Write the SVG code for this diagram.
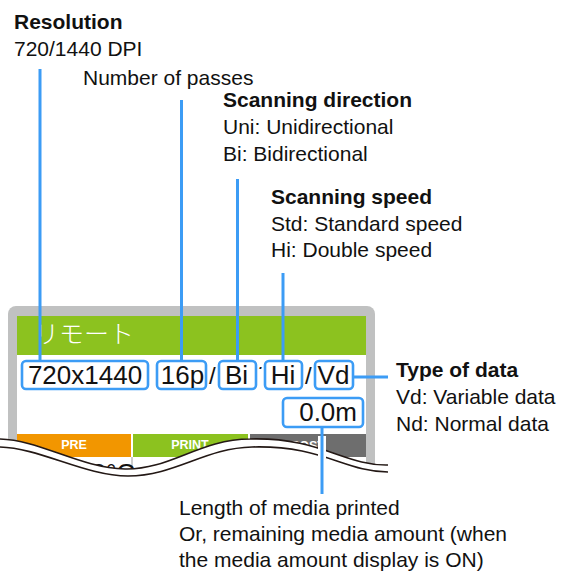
<svg xmlns="http://www.w3.org/2000/svg" width="565" height="572" viewBox="0 0 565 572">
<defs>
<style>
text{font-family:"Liberation Sans",Arial,"Noto Sans CJK JP",sans-serif;fill:#111}
.t{font-size:21px;font-weight:bold}
.d{font-size:21px}
.bx{fill:#fff;stroke:#3c9cf5;stroke-width:2.6}
.bt{font-size:26px;text-anchor:middle}
.conn{stroke:#3c9cf5;stroke-width:3;fill:none}
.halo{stroke:#fff;stroke-width:8;fill:none}
.wave{fill:none;stroke:#231815;stroke-width:1.6}
.sl{font-size:24px}
.bar{font-size:12.5px;font-weight:bold;fill:#fff;text-anchor:middle}
</style>
<clipPath id="c16"><rect x="158" y="362" width="47" height="26"/></clipPath>
<clipPath id="cs"><rect x="250" y="360" width="20" height="9"/></clipPath>
</defs>

<g id="panel">
<rect x="8" y="306" width="367" height="180" rx="8" fill="#c0c1c1"/>
<rect x="17" y="316" width="349" height="170" fill="#fff"/>
<rect x="17" y="316" width="349" height="39" fill="#8cc21f"/>
<text x="34" y="343" style="font-size:25px;fill:#fff;font-family:'Noto Sans CJK JP','Liberation Sans',sans-serif;font-weight:300">リモート</text>
<rect x="17" y="434" width="114" height="23" fill="#f29600"/>
<rect x="133" y="434" width="115" height="23" fill="#8cc21f"/>
<rect x="250" y="434" width="116" height="23" fill="#6e6e6e"/>
<text class="bar" x="74" y="449">PRE</text>
<text class="bar" x="190" y="449">PRINT</text>
<text class="bar" x="308" y="450">POST</text>
<line x1="132" y1="457" x2="132" y2="486" stroke="#999" stroke-width="1"/>
<text x="77" y="482" style="font-size:26px">40°C</text>
<text x="145" y="484" style="font-size:26px">30°C</text>
<path d="M0,439 C40,440 80,468 125,469 C170,470 200,439 250,439 C320,437 345,466 388,465 L390,492 L0,492 Z" fill="#fff"/>
<path class="wave" d="M0,439 C40,440 80,468 125,469 C170,470 200,439 250,439 C320,437 345,466 388,465"/>
<path class="wave" d="M0,447 C40,448 85,476 128,476 C175,476 205,448 252,447 C322,445 345,472 388,472"/>
</g>

<g id="slashes">
<text class="sl" x="209" y="384">/</text>
<text class="sl" x="255" y="384" clip-path="url(#cs)">/</text>
<text class="sl" x="305" y="384">/</text>
</g>

<g id="box-resolution">
<rect class="bx" x="22" y="361" width="126" height="28" rx="4"/>
<text class="bt" x="85" y="384">720x1440</text>
</g>
<g id="box-passes">
<rect class="bx" x="157" y="361" width="49" height="28" rx="4"/>
<text class="bt" x="182.5" y="384" clip-path="url(#c16)">16p</text>
</g>
<g id="box-direction">
<rect class="bx" x="219" y="361" width="37" height="28" rx="4"/>
<text class="bt" x="236.5" y="384">Bi</text>
</g>
<g id="box-speed">
<rect class="bx" x="265" y="361" width="37" height="28" rx="4"/>
<text class="bt" x="283" y="384">Hi</text>
</g>
<g id="box-data">
<rect class="bx" x="315" y="361" width="38" height="28" rx="4"/>
<text class="bt" x="333.5" y="384">Vd</text>
</g>
<g id="box-length">
<rect class="bx" x="283" y="398" width="80" height="29" rx="4"/>
<text class="bt" x="357" y="421" style="text-anchor:end">0.0m</text>
</g>

<g id="label-resolution">
<text class="t" x="14" y="29">Resolution</text>
<text class="d" x="14" y="56">720/1440 DPI</text>
</g>
<g id="label-passes">
<text class="d" x="83" y="85">Number of passes</text>
</g>
<g id="label-direction">
<text class="t" x="223" y="107">Scanning direction</text>
<text class="d" x="223" y="134">Uni: Unidirectional</text>
<text class="d" x="223" y="161">Bi: Bidirectional</text>
</g>
<g id="label-speed">
<text class="t" x="271" y="204">Scanning speed</text>
<text class="d" x="271" y="231">Std: Standard speed</text>
<text class="d" x="271" y="257">Hi: Double speed</text>
</g>
<g id="label-data">
<text class="t" x="396" y="377">Type of data</text>
<text class="d" x="396" y="404">Vd: Variable data</text>
<text class="d" x="396" y="431">Nd: Normal data</text>
</g>
<g id="label-length">
<text class="d" x="179" y="515">Length of media printed</text>
<text class="d" x="179" y="541">Or, remaining media amount (when</text>
<text class="d" x="179" y="567">the media amount display is ON)</text>
</g>

<g id="connectors">
<line class="conn" x1="40" y1="69" x2="40" y2="361"/>
<line class="conn" x1="181.5" y1="100" x2="181.5" y2="361"/>
<line class="conn" x1="237.5" y1="179" x2="237.5" y2="361"/>
<line class="conn" x1="283" y1="273" x2="283" y2="361"/>
<line class="conn" x1="353" y1="377" x2="388" y2="377"/>
<line class="halo" x1="322" y1="436" x2="322" y2="478"/>
<line class="conn" x1="322" y1="428" x2="322" y2="494"/>
</g>
</svg>
